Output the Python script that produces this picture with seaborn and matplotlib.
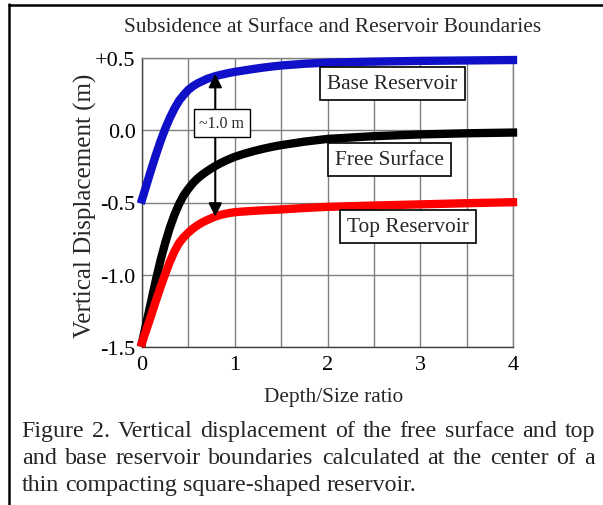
import matplotlib
matplotlib.use("Agg")
import matplotlib.pyplot as plt
from matplotlib.lines import Line2D
from matplotlib.ticker import MultipleLocator
import seaborn as sns
import pandas as pd

# ---- data ----
depth_ratio = [0, 0.05, 0.1, 0.15, 0.2, 0.25, 0.3, 0.35, 0.4, 0.45, 0.5, 0.55,
               0.6, 0.65, 0.7, 0.75, 0.8, 0.85, 0.9, 0.95, 1.0, 1.1, 1.2, 1.3,
               1.4, 1.5, 1.75, 2.0, 2.5, 3.0, 3.5, 4.0]
base_reservoir = [-0.48, -0.375, -0.27, -0.17, -0.075, 0.01, 0.085, 0.15, 0.205,
                  0.245, 0.28, 0.305, 0.325, 0.34, 0.355, 0.366, 0.376, 0.384,
                  0.391, 0.398, 0.404, 0.414, 0.424, 0.433, 0.441, 0.448, 0.46,
                  0.468, 0.475, 0.48, 0.483, 0.486]
free_surface = [-1.47, -1.325, -1.18, -1.035, -0.9, -0.78, -0.675, -0.585, -0.51,
                -0.45, -0.405, -0.365, -0.333, -0.307, -0.284, -0.263, -0.244,
                -0.227, -0.211, -0.197, -0.184, -0.163, -0.145, -0.129, -0.115,
                -0.103, -0.079, -0.06, -0.041, -0.029, -0.021, -0.016]
top_reservoir = [-1.47, -1.375, -1.28, -1.18, -1.085, -0.995, -0.91, -0.838, -0.78,
                 -0.74, -0.708, -0.68, -0.657, -0.638, -0.622, -0.608, -0.595,
                 -0.585, -0.578, -0.572, -0.567, -0.562, -0.558, -0.554, -0.551,
                 -0.548, -0.538, -0.53, -0.521, -0.513, -0.505, -0.498]
series_names = ["Base Reservoir", "Free Surface", "Top Reservoir"]
series_colors = ["#1010c8", "#000000", "#ff0000"]
label_positions = {"Base Reservoir": (2.70, 0.324),
                   "Free Surface": (2.67, -0.202),
                   "Top Reservoir": (2.87, -0.666)}
x_ticks = [0, 1, 2, 3, 4]
y_ticks = [0.5, 0.0, -0.5, -1.0, -1.5]
y_tick_labels = ["+0.5", "0.0", "-0.5", "-1.0", "-1.5"]
arrow_x = 0.79
arrow_bottom = -0.598
arrow_top = 0.39
title = "Subsidence at Surface and Reservoir Boundaries"
xlabel = "Depth/Size ratio"
ylabel = "Vertical Displacement (m)"
caption_lines = ["Figure 2. Vertical displacement of the free surface and top",
                 "and base reservoir boundaries calculated at the center of a",
                 "thin compacting square-shaped reservoir."]

n = len(depth_ratio)
df = pd.DataFrame({
    "ratio": depth_ratio * 3,
    "disp": base_reservoir + free_surface + top_reservoir,
    "series": [series_names[0]] * n + [series_names[1]] * n + [series_names[2]] * n,
})

sns.set_style("white")
SERIF = ["Liberation Serif", "DejaVu Serif"]
plt.rcParams["font.family"] = SERIF

W, H = 603, 506
fig = plt.figure(figsize=(W / 100, H / 100), dpi=100)
ax = fig.add_axes([142 / W, 1 - 348 / H, (513 - 142) / W, (348 - 59) / H])

sns.lineplot(data=df, x="ratio", y="disp", hue="series", hue_order=series_names,
             palette=series_colors, linewidth=6, legend=False, ax=ax,
             estimator=None, sort=False, zorder=3)
for ln in ax.get_lines():
    ln.set_clip_on(False)
    ln.set_solid_capstyle("projecting")
    ln.set_solid_joinstyle("round")

ax.set_xlim(0, 4)
ax.set_ylim(-1.5, 0.5)
ax.set_xticks(x_ticks)
ax.set_xticklabels([str(t) for t in x_ticks])
ax.xaxis.set_minor_locator(MultipleLocator(0.5))
ax.set_yticks(y_ticks)
ax.set_yticklabels(y_tick_labels)
ax.grid(True, which="major", color="#808080", linewidth=1.0)
ax.grid(True, which="minor", axis="x", color="#808080", linewidth=1.0)
ax.set_axisbelow(True)
for s in ax.spines.values():
    s.set_color("#808080")
    s.set_linewidth(1.0)
ax.spines["left"].set_color("#404040")
ax.spines["bottom"].set_color("#404040")
ax.tick_params(axis="both", which="major", direction="out", length=4,
               width=1, color="#404040", labelsize=16, colors="black")
ax.tick_params(axis="y", pad=0.5)
ax.tick_params(axis="x", pad=2)
ax.tick_params(axis="x", which="minor", length=0)
ax.set_xlabel("")
ax.set_ylabel("")

# series labels in boxes
for name in series_names:
    px, py = label_positions[name]
    ax.text(px, py, name, fontsize=15.4, ha="center", va="center", zorder=4,
            bbox=dict(boxstyle="square,pad=0.33", facecolor="white",
                      edgecolor="black", linewidth=1.2))

# double arrow
ax.annotate("", xy=(arrow_x, arrow_top), xytext=(arrow_x, arrow_bottom),
            arrowprops=dict(arrowstyle="<|-|>", color="black", lw=1.5,
                            mutation_scale=20, shrinkA=0, shrinkB=0), zorder=5)
ax.text(0.86, 0.05, "~1.0 m", fontsize=11.5, ha="center", va="center", zorder=6,
        bbox=dict(boxstyle="square,pad=0.35", facecolor="white",
                  edgecolor="black", linewidth=1.0))

# titles / labels
fig.text(333 / W, 1 - 31.7 / H, title, fontsize=15.4, ha="center", va="baseline")
fig.text(333.5 / W, 1 - 402.5 / H, xlabel, fontsize=15.3, ha="center", va="baseline")
fig.text(85 / W, 1 - 206 / H, ylabel, fontsize=18, ha="center", va="center",
         rotation=90)

# frame lines
fig.add_artist(Line2D([8.7 / W, 8.7 / W], [0, 1 - 5 / H], color="black", lw=1.8))
fig.add_artist(Line2D([8.7 / W, 1], [1 - 6 / H, 1 - 6 / H], color="black", lw=1.8))

# justified caption
cap_fs = 17.3
fig.canvas.draw()
r = fig.canvas.get_renderer()
baselines = [437.3, 464.3, 491.3]
x0, x1 = 21.7, 595.0
for i, (line, yb) in enumerate(zip(caption_lines, baselines)):
    words = line.split(" ")
    texts = [fig.text(0, 0, w, fontsize=cap_fs, ha="left", va="baseline")
             for w in words]
    widths = [t.get_window_extent(r).width for t in texts]
    if i < len(caption_lines) - 1:
        gap = (x1 - x0 - sum(widths)) / (len(words) - 1)
    else:
        gap = cap_fs * 100 / 72 * 0.25
    x = x0
    for t, w in zip(texts, widths):
        t.set_position((x / W, 1 - yb / H))
        x += w + gap

fig.savefig("out.png", dpi=100, facecolor="white")
